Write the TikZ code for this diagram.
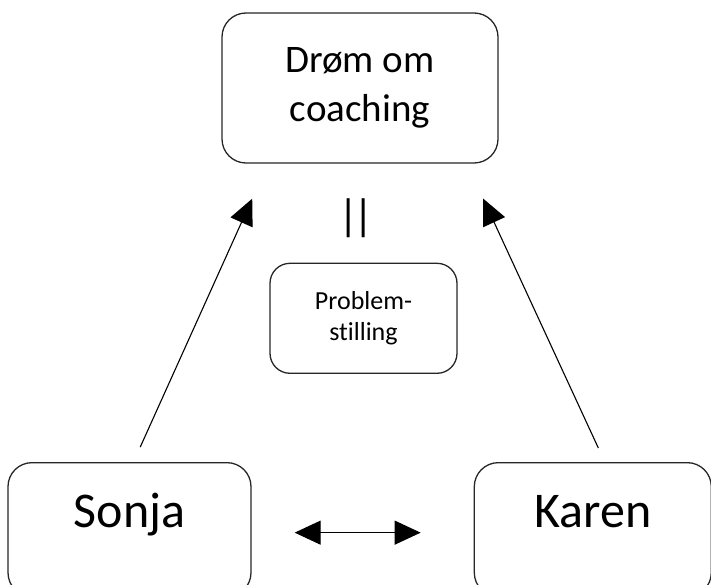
\documentclass[tikz,border=0pt]{standalone}
\usepackage{fontspec}
\setmainfont{Carlito}[Ligatures=NoCommon]
\usetikzlibrary{positioning,arrows.meta}
\tikzset{%
  roleBox/.style={%
    rectangle,
    rounded corners=24pt,
    draw=black!85,
    line width=1.3pt,
    inner sep=0pt,
    align=center
  },
  personBox/.style={%
    roleBox,
    text height=65pt,
    text depth=69pt,
    font=\fontsize{50}{60}\selectfont
  },
  arrowLine/.style={%
    ->,
    line width=1.1pt,
    color=black
  }
}

\begin{document}
\begin{tikzpicture}[x=1pt,y=-1pt,>={Triangle[length=26pt,width=24pt]}]
  \useasboundingbox (0,0) rectangle (711,585);
  \clip (0,0) rectangle (711,585);

  \node[roleBox, minimum width=276pt, minimum height=150pt, font=\fontsize{39}{49}\selectfont] (dream) at (360,88) {Drøm om\\coaching};
  \node[roleBox, rounded corners=20pt, minimum width=187pt, minimum height=110pt, below=99pt of dream, xshift=3.5pt, font=\fontsize{26}{31}\selectfont] (problem) {Problem-\\stilling};
  \node[inner sep=0pt, font=\fontsize{44}{44}\selectfont] (bars) at (356,218) {|\kern-6pt|};

  \node[personBox, anchor=north, minimum width=243pt] (sonja) at (129.5,462) {Sonja};
  \node[personBox, minimum width=237pt, right=222pt of sonja] (karen) {Karen};

  \draw[arrowLine, shorten <=16.4pt, shorten >=38.4pt] ([xshift=4pt]sonja.north) -- ([xshift=-92pt]dream.south);
  \draw[arrowLine, shorten <=15.4pt, shorten >=38.5pt] ([xshift=12pt]karen.north) -- ([xshift=107pt]dream.south);
  \draw[arrowLine, <->, shorten <=43pt, shorten >=53pt] ([yshift=-3pt]sonja.east) -- ([yshift=-3pt]karen.west);
\end{tikzpicture}
\end{document}
